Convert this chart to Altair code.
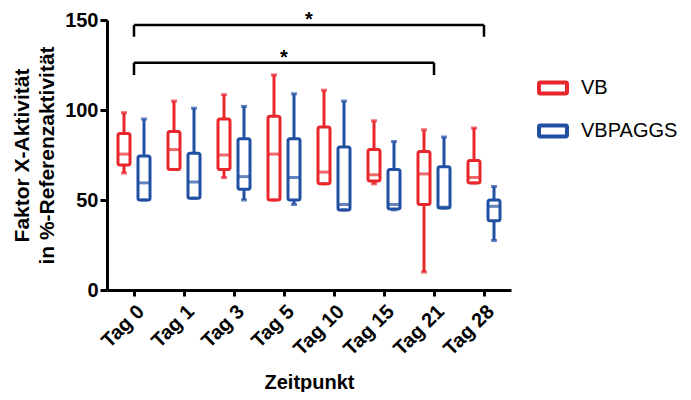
import altair as alt
import pandas as pd

days = ["Tag 0", "Tag 1", "Tag 3", "Tag 5", "Tag 10", "Tag 15", "Tag 21", "Tag 28"]
groups = ["VB", "VBPAGGS"]

vb_min = [65, 67, 62.5, 50, 59, 59, 10, 59.5]
vb_q1 = [69.5, 67, 67, 50, 59, 60.5, 47.5, 59.5]
vb_med = [75.5, 78, 75, 75.5, 65.5, 64, 64.5, 62.5]
vb_q3 = [87, 88, 95, 96.5, 90.5, 78, 77, 72]
vb_max = [98.5, 105, 108.5, 119.5, 111, 94, 89, 90]

vp_min = [50, 51, 50, 47.5, 44.5, 44.5, 45.5, 27.5]
vp_q1 = [50, 51, 56, 50, 44.5, 45, 45.5, 38.5]
vp_med = [59.5, 60, 63, 62.5, 47.5, 47.5, 46, 46.5]
vp_q3 = [74.5, 76, 84, 84, 79.5, 67, 68.5, 50]
vp_max = [95, 101, 102, 109, 105, 82.5, 85, 57.5]

# significance brackets: start day, end day, level, drop-to level
br_start = ["Tag 0", "Tag 0"]
br_end = ["Tag 28", "Tag 21"]
br_level = [147.2, 126.3]
br_drop = [140.7, 119.4]
star_day = ["Tag 5", "Tag 5"]
star_dx = [25, 0]

RED = "#E8262C"
BLUE = "#2150A3"
colors = [RED, BLUE]
FONT = "Liberation Sans"

rows = []
for i, d in enumerate(days):
    rows.append(dict(day=d, group="VB", mn=vb_min[i], q1=vb_q1[i], med=vb_med[i], q3=vb_q3[i], mx=vb_max[i]))
    rows.append(dict(day=d, group="VBPAGGS", mn=vp_min[i], q1=vp_q1[i], med=vp_med[i], q3=vp_q3[i], mx=vp_max[i]))
df = pd.DataFrame(rows)

hline = pd.DataFrame(dict(day=br_start, day_end=br_end, level=br_level))
drops = pd.DataFrame(dict(
    day=br_start + br_end,
    level=br_level + br_level,
    drop=br_drop + br_drop,
))

xscale = alt.Scale(domain=days, paddingInner=0.2, paddingOuter=0.14)
yscale = alt.Scale(domain=[0, 150], nice=False)
col_scale = alt.Scale(domain=groups, range=colors)

X = alt.X("day:N", scale=xscale, sort=days,
          axis=alt.Axis(title="Zeitpunkt", labelAngle=-45, labelFontSize=20, labelFontWeight="bold",
                        labelFont=FONT, titleFont=FONT, titleFontSize=20, titleFontWeight="bold",
                        titleY=98, titleBaseline="alphabetic", tickSize=6, tickWidth=3, domainWidth=3,
                        domainColor="black", tickColor="black", labelColor="black", titleColor="black",
                        labelPadding=5, grid=False))
Y_axis = alt.Axis(title=["Faktor X-Aktivität", "in %-Referenzaktivität"], values=[0, 50, 100, 150],
                  labelFontSize=20, labelFontWeight="bold", labelFont=FONT, titleFont=FONT,
                  titleFontSize=21, titleFontWeight="bold", titleLineHeight=25,
                  titleX=-79, titleY=135, titleBaseline="alphabetic", titleAngle=270,
                  tickSize=7, tickWidth=3, domainWidth=3, domainColor="black", tickColor="black",
                  labelColor="black", titleColor="black", labelPadding=2, grid=False)
XO = alt.XOffset("group:N", scale=alt.Scale(domain=groups, paddingInner=0, paddingOuter=0))

LEG = alt.Legend(title=None, orient="none", legendX=430, legendY=52,
                 labelFontSize=20, labelFont=FONT, labelColor="black",
                 symbolType="M-0.9,-0.39 L0.9,-0.39 Q1,-0.39 1,-0.29 L1,0.29 Q1,0.39 0.9,0.39 L-0.9,0.39 Q-1,0.39 -1,0.29 L-1,-0.29 Q-1,-0.39 -0.9,-0.39 Z",
                 symbolSize=784, symbolStrokeWidth=4, symbolFillColor="white",
                 labelOffset=12, rowPadding=13, padding=0)

base = alt.Chart(df)

box = base.mark_bar(size=12, fill="white", strokeWidth=3, cornerRadius=2).encode(
    x=X, xOffset=XO,
    y=alt.Y("q1:Q", scale=yscale, axis=Y_axis), y2="q3:Q",
    stroke=alt.Stroke("group:N", scale=col_scale, legend=LEG),
)

whisk_lo = base.mark_rule(strokeWidth=3).encode(
    x=X, xOffset=XO,
    y=alt.Y("mn:Q", scale=yscale, axis=Y_axis), y2="q1:Q",
    stroke=alt.Stroke("group:N", scale=col_scale, legend=LEG),
)
whisk_hi = base.mark_rule(strokeWidth=3).encode(
    x=X, xOffset=XO,
    y=alt.Y("q3:Q", scale=yscale, axis=Y_axis), y2="mx:Q",
    stroke=alt.Stroke("group:N", scale=col_scale, legend=LEG),
)

tick_layers = []
for g, c in zip(groups, colors):
    gb = base.transform_filter(alt.datum.group == g)
    for field, sz in [("med", 13), ("mx", 6), ("mn", 6)]:
        tick_layers.append(gb.mark_tick(size=sz, thickness=3, color=c).encode(
            x=X, xOffset=XO, y=alt.Y(f"{field}:Q", scale=yscale, axis=Y_axis)))

hl = alt.Chart(hline).mark_rule(strokeWidth=2.5, color="black").encode(
    x=X, x2="day_end:N", y=alt.Y("level:Q", scale=yscale, axis=Y_axis),
)
dr = alt.Chart(drops).mark_rule(strokeWidth=2.5, color="black").encode(
    x=X, y=alt.Y("level:Q", scale=yscale, axis=Y_axis), y2="drop:Q",
)
stars = []
for i in range(len(star_day)):
    sdf = pd.DataFrame(dict(day=[star_day[i]], level=[br_level[i]], t=["*"]))
    stars.append(alt.Chart(sdf).mark_text(fontSize=20, fontWeight="bold", font=FONT, baseline="alphabetic",
                                          dx=star_dx[i], dy=1, color="black").encode(
        x=X, y=alt.Y("level:Q", scale=yscale, axis=Y_axis), text="t:N"))

chart = alt.layer(box, whisk_lo, whisk_hi, *tick_layers, hl, dr, *stars).properties(
    width=404, height=270,
    padding={"left": 99, "top": 12, "right": 172, "bottom": 102},
    autosize=alt.AutoSizeParams(type="none"),
).configure_view(stroke=None).configure_legend(symbolFillColor="white")

chart.save("out.html", embed_options={"renderer": "svg", "actions": False})
